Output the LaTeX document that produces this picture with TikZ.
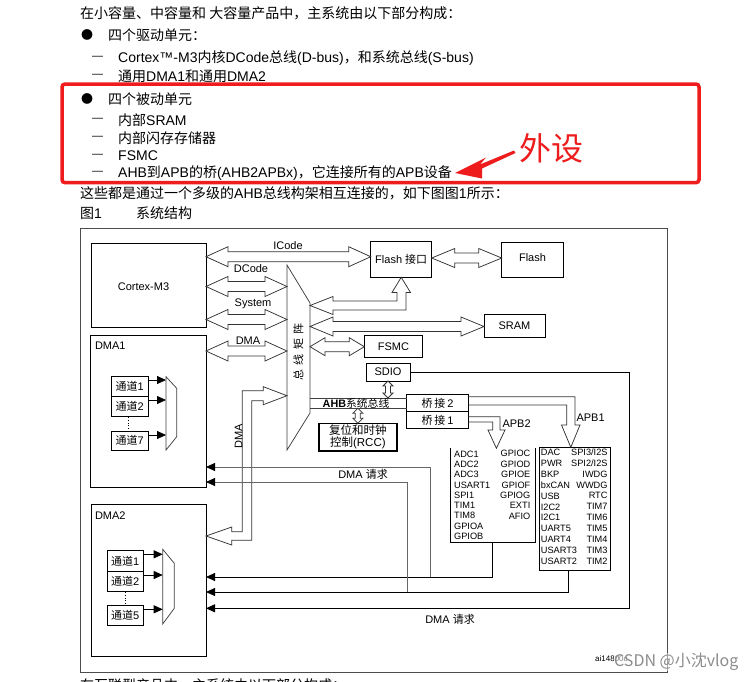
\documentclass[tikz,border=0pt]{standalone}
\usepackage{fontspec}
\setmainfont{Liberation Sans}
\newfontfamily\cjk{Noto Sans CJK SC}
\usetikzlibrary{calc,arrows.meta}
\definecolor{rd}{RGB}{238,28,28}
\newcommand\fsz[1]{\fontsize{#1}{#1}\selectfont}
% hollow horizontal double arrow: #1 head length, #2 head half width, #3 shaft half width, #4 left tip, #5 right tip
\newcommand\dbh[5]{\draw[blk] (#4) -- ($(#4)+(#1,-#2)$) -- ($(#4)+(#1,-#3)$) -- ($(#5)+(-#1,-#3)$) -- ($(#5)+(-#1,-#2)$) -- (#5) -- ($(#5)+(-#1,#2)$) -- ($(#5)+(-#1,#3)$) -- ($(#4)+(#1,#3)$) -- ($(#4)+(#1,#2)$) -- cycle;}
% hollow vertical double arrow: #4 top tip, #5 bottom tip
\newcommand\dbv[5]{\draw[blk] (#4) -- ($(#4)+(#2,#1)$) -- ($(#4)+(#3,#1)$) -- ($(#5)+(#3,-#1)$) -- ($(#5)+(#2,-#1)$) -- (#5) -- ($(#5)+(-#2,-#1)$) -- ($(#5)+(-#3,-#1)$) -- ($(#4)+(-#3,#1)$) -- ($(#4)+(-#2,#1)$) -- cycle;}
\begin{document}
\begin{tikzpicture}[x=1pt,y=-1pt,
 bx/.style={draw=black, line width=0.8pt, inner sep=0pt, outer sep=0pt},
 thn/.style={draw=black!75, line width=0.75pt},
 blk/.style={draw=black!80, line width=0.75pt, fill=white, line join=miter},
 lbl/.style={inner sep=0pt, outer sep=0pt, font=\fsz{11}},
 toptxt/.style={inner sep=0pt, anchor=west, font=\fsz{14}},
 bul/.style={inner sep=0pt, font=\fsz{12}\cjk},
 dsh/.style={inner sep=0pt, font=\fsz{11}},
 per/.style={inner sep=0pt, font=\fsz{9.2}, text height=6.6pt, text depth=0pt},
 req/.style={draw=black, line width=0.85pt, -{Triangle[length=9pt,width=8pt,black]}},
 reqg/.style={draw=black!60, line width=0.8pt, -{Triangle[length=9pt,width=8pt,black]}},
 chn/.style={draw=black, line width=0.8pt, -{Triangle[length=9pt,width=8pt,black]}},
]
\useasboundingbox (0,0) rectangle (750,681);
\fill[white] (0,0) rectangle (750,681);

% ---------- top text ----------
\node[toptxt] (t1) at (80,13) {\cjk 在小容量、中容量和 大容量产品中，主系统由以下部分构成：};
\node[bul] (b1) at (87,35) {●};
\node[toptxt] (t2) at (108,35) {\cjk 四个驱动单元：};
\node[dsh] (d1) at (97.5,58) {—};
\node[toptxt] (t3) at (118,58) {Cortex™-M3{\cjk 内核}DCode{\cjk 总线}(D-bus){\cjk ，和系统总线}(S-bus)};
\node[dsh] (d2) at (97.5,76) {—};
\node[toptxt] (t4) at (118,76) {{\cjk 通用}DMA1{\cjk 和通用}DMA2};
\node[bul] (b2) at (87,99) {●};
\node[toptxt] (t5) at (108,99) {\cjk 四个被动单元};
\node[dsh] (d3) at (97.5,120) {—};
\node[toptxt] (t6) at (118,120) {{\cjk 内部}SRAM};
\node[dsh] (d4) at (97.5,138) {—};
\node[toptxt] (t7) at (118,138) {\cjk 内部闪存存储器};
\node[dsh] (d5) at (97.5,155.5) {—};
\node[toptxt] (t8) at (118,155.5) {FSMC};
\node[dsh] (d6) at (97.5,173) {—};
\node[toptxt] (t9) at (118,173) {AHB{\cjk 到}APB{\cjk 的桥}(AHB2APBx){\cjk ，它连接所有的}APB{\cjk 设备}};
\node[toptxt] (t10) at (80,193) {{\cjk 这些都是通过一个多级的}AHB{\cjk 总线构架相互连接的，如下图图}1{\cjk 所示：}};
\node[toptxt] (t11) at (80,213) {{\cjk 图}1};
\node[toptxt] (t12) at (136,213) {\cjk 系统结构};
\node[toptxt] (t13) at (80,685) {\cjk 在互联型产品中，主系统由以下部分构成：};

% red annotation
\draw[rd, line width=3.5pt, rounded corners=3pt] (62,84) rectangle (699,182.7);
\fill[rd] (t9.east) ++(3,0) coordinate (rtip) (rtip) -- (486,157.5) -- (480,164.5) -- (514,150.5) -- (515.5,153) -- (482,168.5) -- (482,178.5) -- cycle;
\node[inner sep=0pt, font=\fsz{32}\cjk, text=rd] (ws) at (551,148) {外设};

% ---------- frame ----------
\draw[black!70, line width=1pt] (80,228) rectangle (667,672);

% ---------- boxes ----------
\node[bx, minimum width=114.5pt, minimum height=84.4pt] (cortex) at (148.75,285.5) {};
\node[bx, minimum width=115.5pt, minimum height=152.7pt] (dma1) at (148.25,411.35) {};
\node[bx, minimum width=115pt, minimum height=152.7pt] (dma2) at (148.5,580.35) {};
\node[bx, minimum width=61pt, minimum height=35.6pt, font=\fsz{11}] (flashif) at (401.2,259.5) {Flash {\cjk 接口}};
\node[bx, minimum width=61.6pt, minimum height=35.4pt, font=\fsz{11}] (flash) at (532.5,260) {};
\node[lbl] (flashl) at (532.5,257.5) {Flash};
\node[bx, minimum width=61pt, minimum height=23.4pt, font=\fsz{11}] (sram) at (514.5,326) {SRAM};
\node[bx, minimum width=58.4pt, minimum height=22pt, font=\fsz{11}] (fsmc) at (393.5,346.7) {FSMC};
\node[bx, minimum width=44pt, minimum height=17.7pt, font=\fsz{11}] (sdio) at (388,372.15) {SDIO};
\node[bx, line width=1.6pt, minimum width=77.7pt, minimum height=27.4pt, align=center, font=\fontsize{11.5}{12.5}\selectfont] (rcc) at (357.85,437) {{\cjk 复位和时钟}\\{\cjk 控制}(RCC)};
\node[bx, minimum width=61.6pt, minimum height=17.4pt, font=\fsz{11}] (br2) at (437.5,403) {{\cjk 桥\,接}\,2};
\node[bx, minimum width=61.6pt, minimum height=16.6pt, font=\fsz{11}] (br1) at (437.5,420) {{\cjk 桥\,接}\,1};
\node[inner sep=0pt, outer sep=0pt, minimum width=84.5pt, minimum height=94pt] (apb2) at (492.75,495.3) {};
\draw[bx] (apb2.north west) -- (apb2.south west) -- (apb2.south east) -- (apb2.north east);
\node[bx, minimum width=71pt, minimum height=123.4pt] (apb1) at (574.5,509) {};

% labels in big boxes
\node[lbl] (cml) at (143.5,286.7) {Cortex-M3};
\node[lbl, anchor=west] (d1l) at (95,345.7) {DMA1};
\node[lbl, anchor=west] (d2l) at (95,516) {DMA2};

% DMA channels
\node[bx, minimum width=37.3pt, minimum height=19.3pt, font=\fsz{11}] (ch11) at (129.65,386.35) {{\cjk 通道}1};
\node[bx, minimum width=37.3pt, minimum height=20.7pt, font=\fsz{11}] (ch12) at (129.65,406.35) {{\cjk 通道}2};
\node[bx, minimum width=37.3pt, minimum height=19pt, font=\fsz{11}] (ch17) at (129.65,440.5) {{\cjk 通道}7};
\node[bx, minimum width=36pt, minimum height=21pt, font=\fsz{11}] (ch21) at (125.3,561.2) {{\cjk 通道}1};
\node[bx, minimum width=36pt, minimum height=20pt, font=\fsz{11}] (ch22) at (125.3,581.7) {{\cjk 通道}2};
\node[bx, minimum width=36pt, minimum height=19.3pt, font=\fsz{11}] (ch25) at (125.3,615.35) {{\cjk 通道}5};
\draw[black, dotted, line width=0.9pt] (ch12.south -| 128.3,0) -- (ch17.north -| 128.3,0);
\draw[black, dotted, line width=0.9pt] (ch22.south -| 125.7,0) -- (ch25.north -| 125.7,0);
% multiplexers
\draw[thn] (166,376.7) -- (176.7,388.3) -- (176.7,436.7) -- (166,450) -- cycle;
\draw[thn] (162.7,549.3) -- (174.3,563.3) -- (174.3,608.3) -- (162.7,624) -- cycle;
\draw[chn] (ch11.east |- 0,380) -- (166,380);
\draw[chn] (ch12.east |- 0,400) -- (166,400);
\draw[chn] (ch17.east |- 0,435) -- (166,435);
\draw[chn] (ch21.east |- 0,554.3) -- (162.7,554.3);
\draw[chn] (ch22.east |- 0,575) -- (162.7,575);
\draw[chn] (ch25.east |- 0,609.3) -- (162.7,609.3);

% ---------- bus matrix ----------
\draw[thn] (287,265) -- (310,303) -- (310,413) -- (287,450) -- cycle;
\coordinate (bmL) at (287,0);
\coordinate (bmR) at (310,0);
\node[inner sep=0pt, rotate=90, font=\fsz{11}\cjk] (bml) at (298.5,352) {总\hspace{4.5pt}线\hspace{4.5pt}矩\hspace{4.5pt}阵};

% ---------- hollow bus arrows ----------
\dbh{22}{10}{5}{cortex.east |- 0,256.7}{flashif.west |- 0,256.7}
\dbh{22}{10}{5}{cortex.east |- 0,286.5}{bmL |- 0,286.5}
\dbh{22}{10}{5}{cortex.east |- 0,319.5}{bmL |- 0,319.5}
\dbh{22}{10}{5}{dma1.east |- 0,351}{bmL |- 0,351}
\dbh{23}{9.5}{5}{flashif.east |- 0,258}{flash.west |- 0,258}
\dbh{23}{9.5}{5}{bmR |- 0,326.5}{sram.west |- 0,326.5}
\dbh{15}{9}{5}{bmR |- 0,346.7}{fsmc.west |- 0,346.7}
\dbv{5}{5}{2.5}{sdio.south}{sdio.south |- 0,398}
\dbv{5}{5}{2.5}{rcc.north |- 0,408.3}{rcc.north}
% bus matrix <-> Flash interface (bent)
\draw[blk] (bmR |- 0,305.5) -- (333,296.5) -- (333,301) -- (397,301) -- (397,292.5) -- (392,292.5) -- (flashif.south) -- (410.5,292.5) -- (406,292.5) -- (406,310) -- (333,310) -- (333,314.5) -- cycle;
% bus matrix <-> DMA2 (bent)
\draw[blk] (bmL |- 0,395.7) -- (263.3,386.7) -- (263.3,390.7) -- (242.3,390.7) -- (242.3,531.7) -- (231.7,531.7) -- (231.7,527) -- (dma2.east |- 0,536) -- (231.7,545) -- (231.7,540.3) -- (251.7,540.3) -- (251.7,400.7) -- (263.3,400.7) -- (263.3,404.7) -- cycle;

\node[lbl] (icl) at (288,246) {ICode};
\node[lbl] (dcl) at (251,269) {DCode};
\node[lbl] (syl) at (253,304) {System};
\node[lbl] (dml) at (248,341) {DMA};
\node[lbl, rotate=90] (dmv) at (238.6,436.6) {DMA};

% AHB bus
\draw[thn] (bmR |- 0,398) -- (br2.west |- 0,398);
\draw[thn] (bmR |- 0,408.3) -- (br2.west |- 0,408.3);
\node[inner sep=0pt, font=\fsz{10.8}] (ahb) at (356,403.2) {\textbf{AHB}{\cjk 系统总线}};

% APB arrows
\draw[blk, fill=none] (br1.east |- 0,416.7) -- (500,416.7) -- (500,430) -- (505,430) -- (apb2.north -| 496.4,0) -- (488,430) -- (492.7,430) -- (492.7,422) -- (br1.east |- 0,422);
\draw[blk, fill=none] (br2.east |- 0,396.7) -- (575,396.7) -- (575,425) -- (580,425) -- (apb1.north -| 570.8,0) -- (561.5,425) -- (566.7,425) -- (566.7,405) -- (br2.east |- 0,405);
\node[lbl, anchor=west] (apb2l) at (502.5,424) {APB2};
\node[lbl, anchor=west] (apb1l) at (576.5,417.7) {APB1};

% peripherals
\foreach \t [count=\i] in {ADC1,ADC2,ADC3,USART1,SPI1,TIM1,TIM8,GPIOA,GPIOB}
  \node[per, anchor=west] (pa\i) at (454,{454+10.25*(\i-1)}) {\t};
\foreach \t [count=\i] in {GPIOC,GPIOD,GPIOE,GPIOF,GPIOG,EXTI,AFIO}
  \node[per, anchor=east] (pb\i) at (530.5,{453.5+10.4*(\i-1)}) {\t};
\foreach \t [count=\i] in {DAC,PWR,BKP,bxCAN,USB,I2C2,I2C1,UART5,UART4,USART3,USART2}
  \node[per, anchor=west] (pc\i) at (540.7,{452.2+10.9*(\i-1)}) {\t};
\foreach \t [count=\i] in {SPI3/I2S,SPI2/I2S,IWDG,WWDG,RTC,TIM7,TIM6,TIM5,TIM4,TIM3,TIM2}
  \node[per, anchor=east] (pd\i) at (607.7,{452.2+10.85*(\i-1)}) {\t};

% DMA request lines
\draw[req] (sdio.east) -- (629,372.15) -- (629,608.3) -- (dma2.east |- 0,608.3);
\draw[req] (apb2.south -| 492,0) -- (492,577) -- (dma2.east |- 0,577);
\draw[req] (apb1.south -| 568,0) -- (568,592) -- (dma2.east |- 0,592);
\draw[reqg] (430,577) -- (430,467) -- (dma1.east |- 0,467);
\draw[reqg] (407,592) -- (407,482) -- (dma1.east |- 0,482);
\node[lbl] (rq1) at (363,474) {DMA {\cjk 请求}};
\node[lbl] (rq2) at (450,619.5) {DMA {\cjk 请求}};

% figure id and watermark
\node[inner sep=0pt, anchor=west, font=\fsz{8}] (ai) at (595,659) {ai14800c};
\node[inner sep=0pt, anchor=west, font=\fsz{16}\cjk, text=black!45, fill=white, fill opacity=0.5, text opacity=1] (wm) at (614,662) {CSDN @小沈vlog};
\end{tikzpicture}
\end{document}
